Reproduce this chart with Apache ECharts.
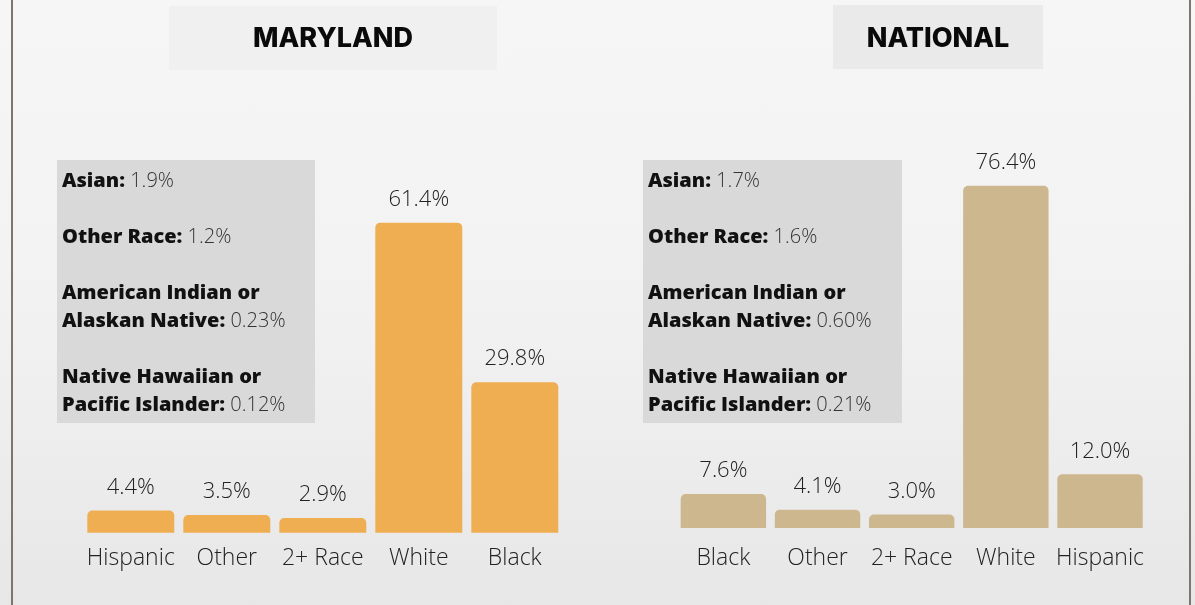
<!DOCTYPE html>
<html>
<head>
<meta charset="utf-8">
<script src="https://cdn.jsdelivr.net/npm/echarts@6/dist/echarts.min.js"></script>
<style>
html,body{margin:0;padding:0;width:1195px;height:605px;overflow:hidden;}
#chart{width:1195px;height:605px;background:linear-gradient(to bottom,#f6f6f6 0%,#f2f2f2 50%,#e7e7e7 100%);}
</style>
</head>
<body>
<div id="chart"></div>
<script>
// ---- data ----
const mdCategories = ['Hispanic', 'Other', '2+ Race', 'White', 'Black'];
const mdValues = [4.4, 3.5, 2.9, 61.4, 29.8];
const natCategories = ['Black', 'Other', '2+ Race', 'White', 'Hispanic'];
const natValues = [7.6, 4.1, 3.0, 76.4, 12.0];
const noteLabels = ['Asian:', 'Other Race:', 'American Indian or\nAlaskan Native:', 'Native Hawaiian or\nPacific Islander:'];
const mdNoteValues = ['1.9%', '1.2%', '0.23%', '0.12%'];
const natNoteValues = ['1.7%', '1.6%', '0.60%', '0.21%'];
const titles = ['MARYLAND', 'NATIONAL'];

const FONT = '"Open Sans", "Noto Sans", sans-serif';
const chart = echarts.init(document.getElementById('chart'), null, {renderer: 'canvas'});

function noteBlock(x, y, w, h, values) {
  const els = [{
    type: 'rect', left: x, top: y, z: 0,
    shape: {width: w, height: h},
    style: {fill: '#d9d9d9'}
  }];
  let line = 0;
  noteLabels.forEach((lab, i) => {
    const parts = lab.split('\n');
    const last = parts.pop();
    let txt = parts.map(p => '{b|' + p + '}\n').join('') + '{b|' + last + '} {v|' + values[i] + '}';
    els.push({
      type: 'text', left: x + 5, top: y + 7 + line * 28, z: 1,
      style: {
        text: txt,
        fontFamily: FONT, fontSize: 20, lineHeight: 28,
        rich: {
          b: {fontFamily: FONT, fontSize: 20, fontWeight: 800, fill: '#111', lineHeight: 28},
          v: {fontFamily: FONT, fontSize: 20, fontWeight: 300, fill: '#333', lineHeight: 28}
        }
      }
    });
    line += parts.length + 2;
  });
  return els;
}

function titleBox(x, y, w, h, fill, text) {
  return [{
    type: 'rect', left: x, top: y, z: 0,
    shape: {width: w, height: h}, style: {fill: fill}
  }, {
    type: 'text', z: 1,
    x: x + w / 2, y: 39,
    style: {
      text: text, fontFamily: 'Inter, "Open Sans", sans-serif', fontSize: 27, fontWeight: 800,
      fill: '#0a0a0a', align: 'center', verticalAlign: 'middle'
    }
  }];
}

const barLabel = {
  show: true, position: 'top', distance: 12,
  fontFamily: FONT, fontSize: 22, fontWeight: 300, color: '#222',
  formatter: p => p.value.toFixed(1) + '%'
};

const option = {
  animation: false,
  grid: [
    {left: 82.8, width: 480, bottom: 72.3, height: 404},
    {left: 676.3, width: 470.8, bottom: 77, height: 358.4}
  ],
  xAxis: [
    {type: 'category', gridIndex: 0, data: mdCategories,
     axisLine: {show: false}, axisTick: {show: false},
     axisLabel: {margin: 14, fontFamily: FONT, fontSize: 23, fontWeight: 300, color: '#222', interval: 0}},
    {type: 'category', gridIndex: 1, data: natCategories,
     axisLine: {show: false}, axisTick: {show: false},
     axisLabel: {margin: 19, fontFamily: FONT, fontSize: 23, fontWeight: 300, color: '#222', interval: 0}}
  ],
  yAxis: [
    {type: 'value', gridIndex: 0, min: 0, max: 80, show: false, splitLine: {show: false}},
    {type: 'value', gridIndex: 1, min: 0, max: 80, show: false, splitLine: {show: false}}
  ],
  series: [
    {type: 'bar', xAxisIndex: 0, yAxisIndex: 0, data: mdValues, barCategoryGap: '9.4%',
     itemStyle: {color: '#f0ae52', borderRadius: [5, 5, 0, 0]}, label: barLabel},
    {type: 'bar', xAxisIndex: 1, yAxisIndex: 1, data: natValues, barCategoryGap: '9.3%',
     itemStyle: {color: '#cdb78e', borderRadius: [5, 5, 0, 0]}, label: barLabel}
  ],
  graphic: [
    {type: 'rect', left: 11, top: 0, shape: {width: 2, height: 605}, style: {fill: '#7f746e'}},
    {type: 'rect', left: 1189, top: 0, shape: {width: 2, height: 605}, style: {fill: '#7f746e'}},
    ...titleBox(169, 6, 328, 64, '#f0f0f0', titles[0]),
    ...titleBox(833, 5, 210, 64, '#eaeaea', titles[1]),
    ...noteBlock(57, 160, 258, 263, mdNoteValues),
    ...noteBlock(643, 160, 259, 263, natNoteValues)
  ]
};
chart.setOption(option);
</script>
</body>
</html>
